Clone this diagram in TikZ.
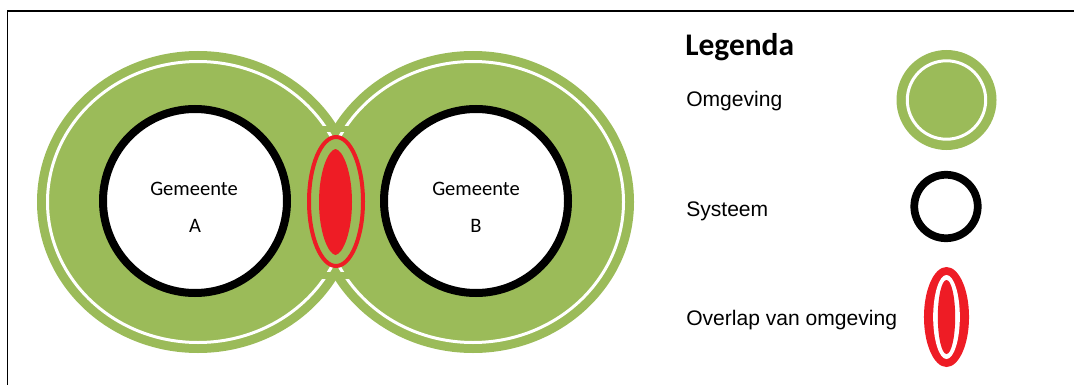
\documentclass[tikz,border=0pt]{standalone}
\usepackage{fontspec}
\setmainfont{Carlito}
\newfontfamily\labelfont{Liberation Sans}
\definecolor{omggreen}{HTML}{9BBB59}
\definecolor{ovlred}{HTML}{EE1C25}
\begin{document}
\begin{tikzpicture}[x=0.75pt,y=-0.75pt,
  gemtext/.style={inner sep=0pt,anchor=base,font=\fontsize{15.4}{18}\selectfont},
  legtext/.style={inner sep=0pt,anchor=base west,font=\labelfont\fontsize{15.8}{19}\selectfont},
  ring/.style={draw=white,line width=2.25pt},
  sysring/.style={draw=black,fill=white,line width=6pt}]
\useasboundingbox (0,0) rectangle (1074,385);

% frame
\draw[line width=1.2pt] (7.5,390) -- (7.5,11) -- (1080,11);

% environments of both municipalities
\fill[omggreen] (198,202) ellipse [x radius=120.75pt, y radius=113.25pt];
\fill[omggreen] (473,202) ellipse [x radius=120.75pt, y radius=113.25pt];
\draw[ring] (198,202) ellipse [x radius=112.875pt, y radius=105.375pt];
\draw[ring] (473,202) ellipse [x radius=112.875pt, y radius=105.375pt];

% hide the crossing of the white rings in the overlap
\fill[omggreen] (314,125.5) rectangle (358,132);
\fill[omggreen] (314,271.5) rectangle (358,278.5);

% overlap of the environments
\draw[ovlred,fill=omggreen,line width=3pt] (336,201.5) ellipse [x radius=20.25pt, y radius=48.375pt];
\fill[ovlred] (335.5,149) .. controls (343,150) and (352,172) .. (352,202)
  .. controls (352,232) and (343,254) .. (335.5,255)
  .. controls (328,254) and (319,232) .. (319,202)
  .. controls (319,172) and (328,150) .. (335.5,149) -- cycle;

% systems
\draw[sysring] (195,201) circle [radius=69pt];
\draw[sysring] (476,201) circle [radius=69pt];
\node[gemtext] (gemA) at (194,195) {Gemeente};
\node[gemtext] (lblA) at (195,232) {A};
\node[gemtext] (gemB) at (476,195) {Gemeente};
\node[gemtext] (lblB) at (476,232) {B};

% legend
\node[inner sep=0pt,anchor=base west,font=\bfseries\fontsize{23.6}{28}\selectfont] (legtitle) at (685,56) {Legenda};
\node[legtext] (legomg) at (686,106.7) {Omgeving};
\node[legtext] (legsys) at (686,216) {Systeem};
\node[legtext] (legovl) at (686,325.7) {Overlap van omgeving};

\fill[omggreen] (946.5,100) circle [radius=37.5pt];
\draw[ring] (946.5,100) circle [radius=29.4pt];

\draw[draw=black,fill=white,line width=5.8pt] (946,206.5) circle [radius=23.8pt];

\fill[ovlred] (946.5,317) ellipse [x radius=16.9pt, y radius=37.5pt];
\fill[white] (946.5,317) ellipse [x radius=10pt, y radius=31.5pt];
\fill[ovlred] (946.5,317) ellipse [x radius=6.5pt, y radius=27.75pt];
\end{tikzpicture}
\end{document}
